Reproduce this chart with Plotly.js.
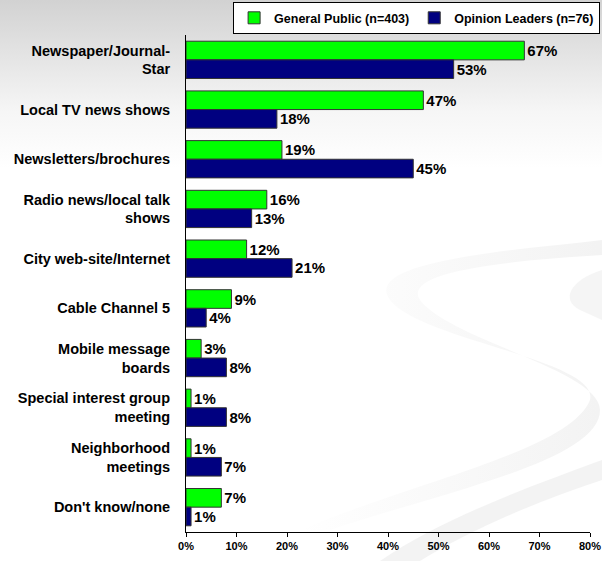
<!DOCTYPE html>
<html><head><meta charset="utf-8">
<script src="https://cdn.plot.ly/plotly-3.0.1.min.js"></script>
<style>body{margin:0;padding:0;background:#fff}#chart{width:602px;height:561px}</style>
</head><body><div id="chart"></div>
<script>
const categories = ["Newspaper/Journal-<br>Star","Local TV news shows","Newsletters/brochures","Radio news/local talk<br>shows","City web-site/Internet","Cable Channel 5","Mobile message<br>boards","Special interest group<br>meeting","Neighborhood<br>meetings","Don't know/none"];
const generalPublic = [67,47,19,16,12,9,3,1,1,7];
const opinionLeaders = [53,18,45,13,21,4,8,8,7,1];
const seriesNames = ["General Public (n=403)","Opinion Leaders (n=76)"];

const FAM = "Arial, Liberation Sans, sans-serif";
function mk(vals, name, color){
  return {type:"bar", orientation:"h", y:categories, x:vals, name:name,
    marker:{color:color, line:{color:"#333", width:1}},
    text:vals.map(v=>v+"%"), textposition:"outside", cliponaxis:false,
    textfont:{family:FAM, size:15, color:"#000", weight:"bold"},
    hoverinfo:"x+y"};
}
const data = [mk(generalPublic, seriesNames[0], "#00FF00"), mk(opinionLeaders, seriesNames[1], "#000080")];

const bgSvg = '<svg xmlns="http://www.w3.org/2000/svg" width="602" height="561" viewBox="0 0 602 561">' +
  '<defs><linearGradient id="g" x1="0" y1="0" x2="0" y2="1">' +
  '<stop offset="0" stop-color="#d2d2d2"/><stop offset="0.2" stop-color="#f6f6f6"/><stop offset="0.3" stop-color="#ffffff"/></linearGradient>' +
  '<linearGradient id="s" x1="0" y1="0" x2="1" y2="0"><stop offset="0" stop-color="#ffffff"/><stop offset="1" stop-color="#e4e4e4"/></linearGradient></defs>' +
  '<rect width="602" height="561" fill="url(#g)"/>' +
  '<path d="M602 240 C520 250 360 260 390 300 C420 340 600 360 590 400 C570 450 420 480 300 530 L330 530 C450 490 600 460 600 410 C600 370 450 340 420 300 C400 270 520 260 602 255 Z" fill="url(#s)" opacity="0.45"/>' +
  '<path d="M602 270 C570 280 560 300 580 310 L602 320 Z" fill="#e6e6e6" opacity="0.4"/>' +
  '<path d="M602 460 C520 490 440 520 380 561 L420 561 C470 530 540 500 602 480 Z" fill="#e8e8e8" opacity="0.5"/>' +
  '</svg>';

const layout = {
  width:602, height:561,
  margin:{l:186, r:12, t:35, b:29, autoexpand:false},
  paper_bgcolor:"#fff", plot_bgcolor:"rgba(0,0,0,0)",
  images:[{source:"data:image/svg+xml;charset=utf-8,"+encodeURIComponent(bgSvg), xref:"paper", yref:"paper",
    x:-186/404, y:1+35/497, sizex:602/404, sizey:561/497, xanchor:"left", yanchor:"top", sizing:"stretch", layer:"below"}],
  barmode:"group", bargap:0.25, bargroupgap:0,
  showlegend:true,
  legend:{orientation:"h", x:1.025, xanchor:"right", y:1.066, yanchor:"top",
    bordercolor:"#000", borderwidth:1, bgcolor:"#fff",
    font:{family:FAM, size:12.5, color:"#000", weight:"bold"},
    itemwidth:30, tracegroupgap:0},
  xaxis:{range:[0,80], dtick:10, ticksuffix:"%", showgrid:false, zeroline:false,
    showline:true, linecolor:"#000", linewidth:1, ticks:"outside", ticklen:4, tickcolor:"#000",
    tickfont:{family:FAM, size:11, color:"#000", weight:"bold"}, fixedrange:true},
  yaxis:{autorange:"reversed", showgrid:false, zeroline:false, showline:true, linecolor:"#000", linewidth:1,
    ticks:"", ticklabelstandoff:12, tickfont:{family:FAM, size:14.5, color:"#000", weight:"bold"}, fixedrange:true},
  font:{family:FAM, size:12, color:"#000", weight:"bold"}
};
Plotly.newPlot("chart", data, layout, {displayModeBar:false, staticPlot:true});
</script></body></html>
